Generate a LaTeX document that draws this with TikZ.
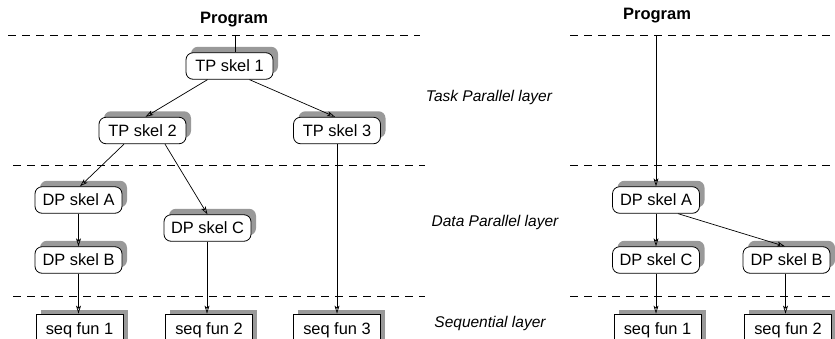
\documentclass[tikz,border=0pt]{standalone}
\usepackage{fontspec}
\setmainfont{Liberation Sans}
\usetikzlibrary{arrows.meta,shadows}
\definecolor{shadowgray}{gray}{0.6}
\tikzset{
  skel/.style={draw, fill=white, rounded corners=7pt, minimum width=87pt, minimum height=26.5pt,
    inner sep=0pt, line width=0.8pt, font=\fontsize{16.4}{18}\selectfont,
    general shadow={shadow xshift=5pt, shadow yshift=6pt, fill=shadowgray, draw=none}},
  seqfun/.style={draw, fill=white, minimum width=87pt, minimum height=30pt, inner sep=0pt,
    text depth=0pt, line width=0.8pt, font=\fontsize{16.4}{18}\selectfont,
    general shadow={shadow xshift=4.5pt, shadow yshift=4pt, fill=shadowgray, draw=none}},
  conn/.style={line width=0.7pt, -{Stealth[open, length=8pt, width=5pt, inset=2pt]}},
  plainconn/.style={line width=0.7pt},
  layerline/.style={line width=0.8pt, dash pattern=on 8pt off 6pt},
  title/.style={font=\bfseries\fontsize{16.5}{18}\selectfont, inner sep=0pt},
  layerlabel/.style={font=\itshape\fontsize{15.5}{18}\selectfont, inner sep=0pt}
}
\begin{document}
\begin{tikzpicture}[x=1pt, y=-1pt]
\useasboundingbox (0,0) rectangle (835,338);
\clip (0,0) rectangle (835,338);

% dashed layer lines
\draw[layerline] (8,35) -- (420,35);
\draw[layerline] (13,165) -- (425,165);
\draw[layerline] (13,296) -- (425,296);
\draw[layerline] (570,35) -- (835,35);
\draw[layerline] (570,165) -- (835,165);
\draw[layerline] (570,296) -- (835,296);

% titles and layer labels
\node[title] (prog1) at (234,20) {Program};
\node[title] (prog2) at (657,15.5) {Program};
\node[layerlabel] (tpl) at (489,97) {Task Parallel layer};
\node[layerlabel] (dpl) at (495,222) {Data Parallel layer};
\node[layerlabel] (sql) at (490,323) {Sequential layer};

% left tree
\coordinate (in1) at (235,35);
\node[skel] (tp1) at (229.5,66) {TP skel 1};
\node[skel] (tp2) at (142.5,130.5) {TP skel 2};
\node[skel] (tp3) at (337,130.5) {TP skel 3};
\node[skel] (dpa) at (78.5,200) {DP skel A};
\node[skel] (dpb) at (78.5,260) {DP skel B};
\node[skel] (dpc) at (207.5,228) {DP skel C};
\node[seqfun] (sf1) at (79.5,329) {seq fun 1};
\node[seqfun] (sf2) at (209,329) {seq fun 2};
\node[seqfun] (sf3) at (337,329) {seq fun 3};

\draw[plainconn] (in1) -- (in1 |- tp1.north);
\draw[conn] ([xshift=-22pt]tp1.south) -- ([xshift=3pt]tp2.north);
\draw[conn] ([xshift=20pt]tp1.south) -- ([xshift=-2pt]tp3.north);
\draw[conn] ([xshift=-18.5pt]tp2.south) -- ([xshift=1.5pt]dpa.north);
\draw[conn] ([xshift=22.5pt]tp2.south) -- (dpc.north);
\draw[conn] (dpa.south) -- (dpb.north);
\draw[conn] (dpb.south) -- (dpb.south |- sf1.north);
\draw[conn] ([xshift=-0.5pt]dpc.south) -- ([xshift=-0.5pt]dpc.south |- sf2.north);
\draw[conn] (tp3.south) -- (tp3.south |- sf3.north);

% right tree
\coordinate (in2) at (656,35);
\node[skel] (rdpa) at (656,200) {DP skel A};
\node[skel] (rdpc) at (656,260) {DP skel C};
\node[skel] (rdpb) at (786.5,260) {DP skel B};
\node[seqfun] (rsf1) at (657.5,329) {seq fun 1};
\node[seqfun] (rsf2) at (788,329) {seq fun 2};

\draw[conn] (in2) -- (rdpa.north);
\draw[conn] ([xshift=22pt]rdpa.south) -- ([xshift=-1.5pt]rdpb.north);
\draw[conn] (rdpa.south) -- (rdpc.north);
\draw[conn] (rdpc.south) -- (rdpc.south |- rsf1.north);
\draw[conn] ([xshift=-1pt]rdpb.south) -- ([xshift=-1pt]rdpb.south |- rsf2.north);
\end{tikzpicture}
\end{document}
